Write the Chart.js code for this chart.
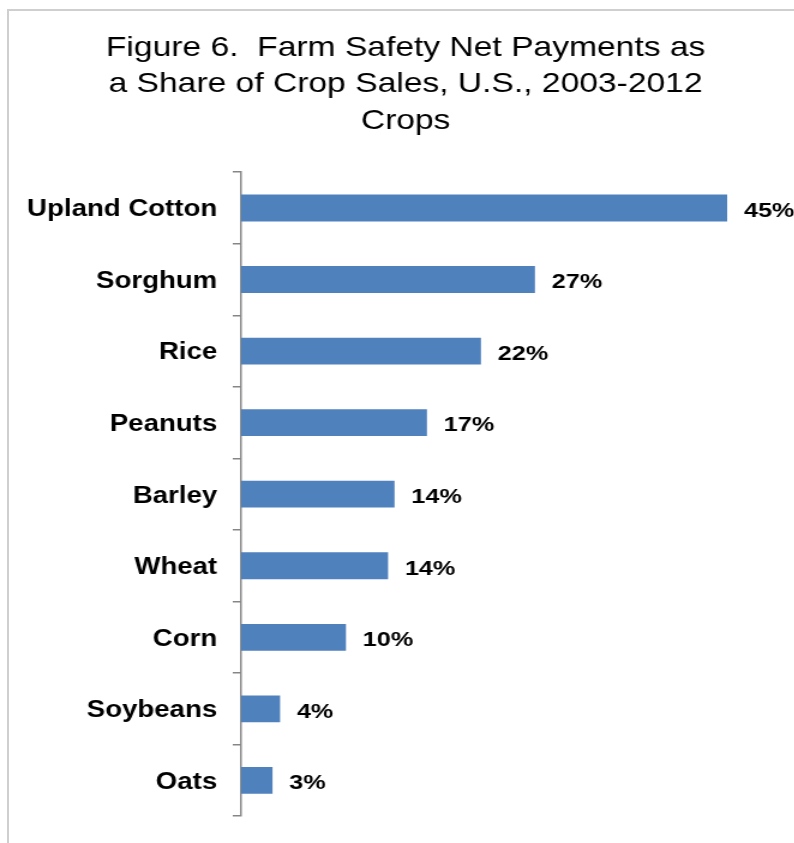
<!DOCTYPE html>
<html>
<head>
<meta charset="utf-8">
<title>Farm Safety Net Payments as a Share of Crop Sales</title>
<script src="https://cdn.jsdelivr.net/npm/chart.js@4.4.1/dist/chart.umd.min.js"></script>
<style>
  html, body { margin: 0; padding: 0; background: #fff; overflow: hidden; width: 794px; height: 843px; }
  #frame { position: absolute; left: 7px; top: 9px; width: 900px; height: 900px;
           border-left: 2px solid #cfcfcf; border-top: 2px solid #cfcfcf; }
  /* the reference is stretched sideways, so draw narrow and widen */
  #wrap { position: absolute; left: 0; top: 0; width: 662px; height: 843px;
          transform: scaleX(1.2); transform-origin: 0 0; }
</style>
</head>
<body>
<div id="frame"></div>
<div id="wrap"><canvas id="bar-chart"></canvas></div>
<script>
const titleLines = [
  'Figure 6.  Farm Safety Net Payments as',
  'a Share of Crop Sales, U.S., 2003-2012',
  'Crops'
];
const crops = ['Upland Cotton', 'Sorghum', 'Rice', 'Peanuts', 'Barley', 'Wheat', 'Corn', 'Soybeans', 'Oats'];
const shares = [45, 27.2, 22.2, 17.2, 14.2, 13.6, 9.7, 3.6, 2.9];
const shareLabels = ['45%', '27%', '22%', '17%', '14%', '14%', '10%', '4%', '3%'];

const fontFamily = '"Liberation Sans", Arial, sans-serif';

// percent labels to the right of each bar
const valueLabels = {
  id: 'valueLabels',
  afterDatasetsDraw(chart) {
    const ctx = chart.ctx;
    const meta = chart.getDatasetMeta(0);
    ctx.save();
    ctx.font = 'bold 21px ' + fontFamily;
    ctx.fillStyle = '#000';
    ctx.textAlign = 'left';
    ctx.textBaseline = 'middle';
    meta.data.forEach((bar, i) => {
      ctx.fillText(shareLabels[i], bar.x + 14, bar.y + 3);
    });
    ctx.restore();
  }
};

const ctx = document.getElementById('bar-chart').getContext('2d');

new Chart(ctx, {
  type: 'bar',
  data: {
    labels: crops,
    datasets: [
      {
        label: 'Share of crop sales',
        data: shares,
        backgroundColor: '#4F81BD',
        borderWidth: 0,
        barPercentage: 0.75,
        categoryPercentage: 0.5
      }
    ]
  },
  options: {
    indexAxis: 'y',
    responsive: true,
    maintainAspectRatio: false,
    animation: false,
    layout: {
      padding: { left: 16, right: 2, top: 0, bottom: 23 }
    },
    plugins: {
      legend: { display: false },
      tooltip: { enabled: false },
      title: {
        display: true,
        text: titleLines,
        color: '#000',
        font: { family: fontFamily, size: 28, weight: 'normal', lineHeight: 1.3 },
        padding: { top: 30, bottom: 33 }
      }
    },
    scales: {
      x: {
        display: false,
        min: 0,
        max: 51
      },
      y: {
        offset: true,
        grid: {
          offset: true,
          drawOnChartArea: false,
          tickLength: 7,
          color: '#868686',
          lineWidth: 1.5
        },
        border: { color: '#868686', width: 1.5 },
        ticks: {
          color: '#000',
          padding: 13,
          labelOffset: 2,
          font: { family: fontFamily, size: 23, weight: 'bold' }
        },
        afterFit(scale) {
          scale.width = 185;
        }
      }
    }
  },
  plugins: [valueLabels]
});
</script>
</body>
</html>
